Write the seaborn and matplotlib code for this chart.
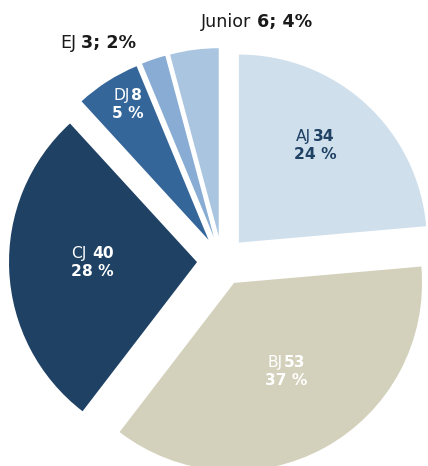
import numpy as np
import matplotlib
matplotlib.use("Agg")
import matplotlib.pyplot as plt
import seaborn as sns
from matplotlib.offsetbox import TextArea, HPacker, VPacker, AnnotationBbox

# data
groups = ["AJ", "BJ", "CJ", "DJ", "EJ", "Junior"]
counts = [34, 53, 40, 8, 3, 6]
shares = [24, 37, 28, 5, 2, 4]
colors = ["#cfdfec", "#d3d1bb", "#1e4164", "#356699", "#88acd3", "#aac5e0"]

# label layout: (angle deg, distance in radii, text colour, inside?)
label_pos = {
    "AJ": (51.1, 0.789, "#1e4164", True),
    "BJ": (-59.7, 0.681, "white", True),
    "CJ": (180.7, 0.689, "white", True),
    "DJ": (121.0, 0.971, "white", True),
    "EJ": (119.6, 1.334, "#1a1a1a", False),
    "Junior": (81.7, 1.285, "#1a1a1a", False),
}

sns.set_style("white")
plt.rcParams["font.family"] = ["DejaVu Sans"]

W, H, R = 428, 466, 188
cx, cy = 222, 261
fig = plt.figure(figsize=(W / 100, H / 100), dpi=100)
ax = fig.add_axes([0, 0, 1, 1])
ax.pie(counts, colors=colors, startangle=90, counterclock=False,
       explode=[0.133] * len(counts), radius=1,
       wedgeprops=dict(linewidth=0))
ax.set_xlim(-cx / R, (W - cx) / R)
ax.set_ylim(-(H - cy) / R, cy / R)
ax.axis("off")

FS_IN, FS_OUT = 11.2, 12.6
for g, n, p in zip(groups, counts, shares):
    ang, dist, col, inside = label_pos[g]
    x = dist * np.cos(np.radians(ang))
    y = dist * np.sin(np.radians(ang))
    if inside:
        reg = TextArea(g, textprops=dict(color=col, size=FS_IN))
        bold = TextArea(str(n), textprops=dict(color=col, size=FS_IN, weight="bold"))
        line1 = HPacker(children=[reg, bold], sep=4 if g == "CJ" else 1,
                        pad=0, align="baseline")
        line2 = TextArea(f"{p} %", textprops=dict(color=col, size=FS_IN, weight="bold"))
        box = VPacker(children=[line1, line2], sep=2, pad=0, align="center")
    else:
        reg = TextArea(g, textprops=dict(color=col, size=FS_OUT))
        bold = TextArea(f"{n}; {p}%", textprops=dict(color=col, size=FS_OUT,
                                                      weight="bold"))
        box = HPacker(children=[reg, bold], sep=4, pad=0, align="baseline")
    ab = AnnotationBbox(box, (x, y), frameon=False, box_alignment=(0.5, 0.5),
                        pad=0)
    ax.add_artist(ab)

fig.savefig("out.png", dpi=100)
